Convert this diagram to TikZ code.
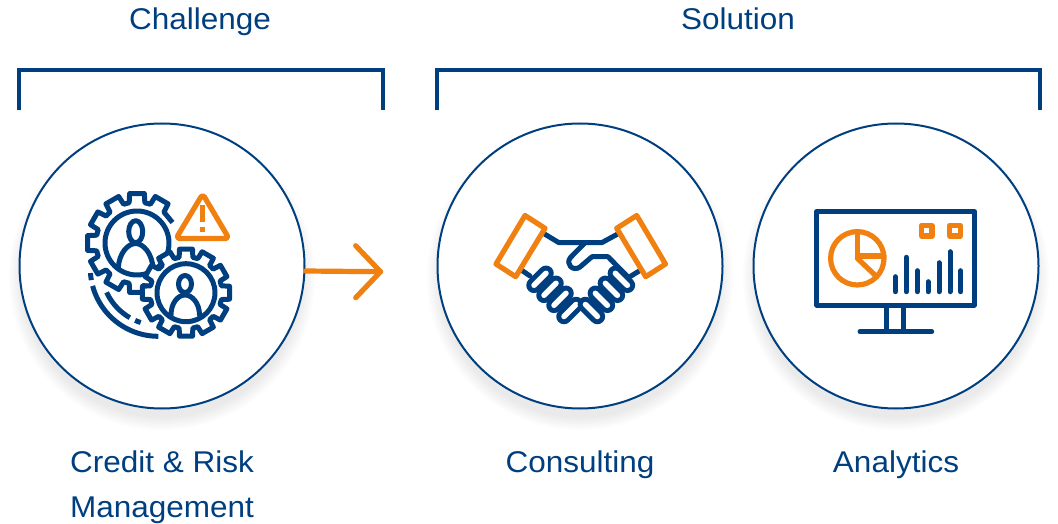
\documentclass[tikz,border=0pt]{standalone}
\usepackage{fontspec}
\setmainfont[FakeStretch=1.05]{Liberation Sans}
\usetikzlibrary{calc}
\definecolor{navy}{HTML}{003F7F}
\definecolor{amber}{HTML}{F08110}
\tikzset{
  x=1pt,y=-1pt,
  ring/.style={circle,draw=navy,line width=2pt,fill=white,minimum size=285pt,inner sep=0pt},
  halo/.style={circle,fill=black,opacity=0.012,inner sep=0pt},
  bracket/.style={draw=navy,line width=3.8pt,line cap=butt,line join=miter},
  label/.style={text=navy,font=\fontsize{30}{36}\selectfont,inner sep=0pt,anchor=base},
  nv/.style={draw=navy,line width=5pt,line join=round,line cap=round},
  og/.style={draw=amber,line width=5.2pt,line join=round,line cap=round},
  grip/.style={draw=navy,line width=5pt,double=white,double distance=5.5pt,line cap=round},
}
\newcommand{\gearpath}[7]{% cx cy rroot rtip first last n
  (#1,#2)++({#5*360/#7-11}:#3)
  \foreach \k in {#5,...,#6}{
    -- ($(#1,#2)+({\k*360/#7-11}:#3)$)
    -- ($(#1,#2)+({\k*360/#7-8.5}:#4)$)
    -- ($(#1,#2)+({\k*360/#7+8.5}:#4)$)
    -- ($(#1,#2)+({\k*360/#7+11}:#3)$)
  }
}
\begin{document}
\begin{tikzpicture}
\useasboundingbox (0,0) rectangle (1058,524);
% soft shadows
\foreach \cx in {162,580,896}{
  \foreach \r in {282,286,...,306}{
    \node[halo,minimum size=\r pt] at (\cx,277) {};
  }
}
\node[ring] (c1) at (162,266) {};
\node[ring] (c2) at (580,266) {};
\node[ring] (c3) at (896,266) {};
% brackets
\draw[bracket] (19,110) -- (19,70) -- (383,70) -- (383,110);
\draw[bracket] (437,110) -- (437,70) -- (1040,70) -- (1040,110);
% labels
\node[label] (t1) at (200,30) {Challenge};
\node[label] (t2) at (738,30) {Solution};
\node[label] (t3) at (162,472) {Credit \& Risk};
\node[label] (t4) at (162,517) {Management};
\node[label] (t5) at (580,472) {Consulting};
\node[label] (t6) at (896,472) {Analytics};
% arrow
\coordinate (tip) at (380.5,271.7);
\coordinate (up) at (355.7,245.7);
\coordinate (dn) at (355.7,297.7);
\draw[og] (c1.-2.3) -- (tip);
\draw[og] (up) -- (tip) -- (dn);
% --- gears icon
\draw[nv,line cap=butt] \gearpath{137}{243}{41}{50}{3}{10}{12} -- ($(137,243)+(-30:41)$);
\draw[nv] (137,243) circle[radius=32];
\draw[nv] (135.7,231.7) ellipse[x radius=7,y radius=11];
\draw[nv] (118.3,268) .. controls (119,253) and (128,243.5) .. (135.7,243.5) .. controls (143,243.5) and (152,253) .. (153,268);
\draw[nv,fill=white] \gearpath{186}{292.7}{36}{44}{0}{11}{12} -- cycle;
\draw[nv] (186,292.7) circle[radius=29];
\draw[nv] (185,284) ellipse[x radius=6.5,y radius=8.5];
\draw[nv] (171,315) .. controls (171,303) and (178,295) .. (185,295) .. controls (192,295) and (199.5,303) .. (199.5,315);
\draw[nv,line cap=butt] plot[domain=90:165,samples=30] ({158.3+68*cos(\x)},{268.3+68*sin(\x)});
\draw[nv,line cap=butt] plot[domain=170:176,samples=4] ({158.3+68*cos(\x)},{268.3+68*sin(\x)});
\draw[nv,line cap=butt] plot[domain=120:155,samples=20] ({158.3+57*cos(\x)},{268.3+57*sin(\x)});
\draw[nv,line cap=butt] plot[domain=108:114,samples=4] ({158.3+57*cos(\x)},{268.3+57*sin(\x)});
\draw[og,fill=white,rounded corners=3.5pt] (202.7,194) -- (176,238.5) -- (229,238.5) -- cycle;
\draw[og,line cap=butt] (202.7,205) -- (202.7,221.7);
\draw[og,line cap=butt] (202.7,226.5) -- (202.7,231.5);
% --- handshake icon
\draw[nv] (543.3,233.3) -- (559,242.7) -- (601.7,242.7) -- (619,233.3);
\draw[nv] (585,242.7) -- (570.5,257.5) .. controls (565,264) and (573,272) .. (580,267) -- (592,256.7) -- (608,256.7) -- (629,278);
\draw[nv] (522,270.5) -- (530,276);
\draw[nv] (640,270.5) -- (631,276);
\foreach \cxa/\cya in {540/279.3,550/289.3,560/299.3,570/310.5}{
  \draw[grip] (\cxa-6,\cya+6) -- (\cxa+6,\cya-6);
  \draw[grip] (1161.4-\cxa+6,\cya+6) -- (1161.4-\cxa-6,\cya-6);
}
\draw[og] (525,215.5) -- (545,228.3) -- (515.7,276.7) -- (496,264) -- cycle;
\draw[og] (636.7,215.5) -- (616.7,228.3) -- (645.7,276.7) -- (665.5,264) -- cycle;
% --- monitor icon
\draw[nv] (816.7,211.7) rectangle (974.3,305);
\draw[nv,line cap=butt] (886.7,305) -- (886.7,331.7);
\draw[nv,line cap=butt] (903.3,305) -- (903.3,331.7);
\draw[nv] (860,331.7) -- (931.7,331.7);
\draw[og] (857.3,258.3) circle[radius=26.7];
\draw[og] (857.3,232) -- (857.3,256) -- (884,256);
\draw[og] (857.3,258.3) -- (876.7,276.7);
\draw[og] (921.5,225.5) rectangle (932,236);
\draw[og] (949.8,225.5) rectangle (960.3,236);
\foreach \bx/\by in {895.3/276.7,906.3/257.3,917.3/270.7,928/281.7,939/262.7,950/251.7,960.7/270.7}{
  \draw[nv] (\bx,\by) -- (\bx,291.7);
}
\end{tikzpicture}
\end{document}
